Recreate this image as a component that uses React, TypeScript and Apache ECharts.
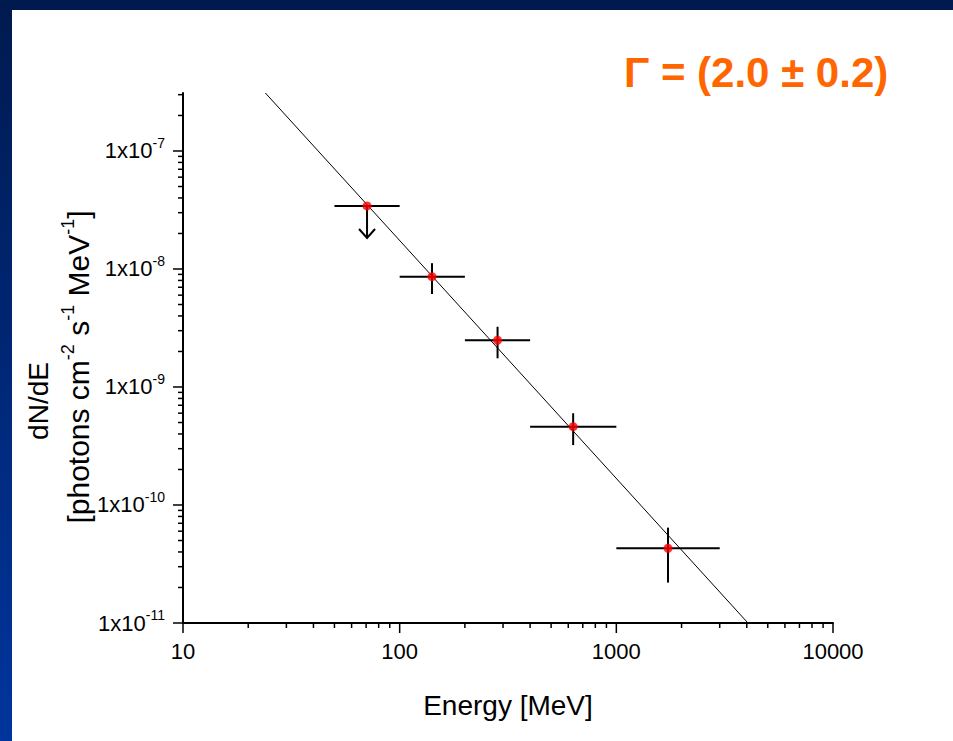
import React, { useEffect, useRef } from 'react';
import * as echarts from 'echarts';

const FONT = '"Liberation Sans", Arial, Helvetica, sans-serif';

// Spectral points (MeV, photons cm^-2 s^-1 MeV^-1)
const energyCenter = [70.7, 141, 283, 632, 1732];
const energyLow = [50, 100, 200, 400, 1000];
const energyHigh = [100, 200, 400, 1000, 3000];
const flux = [3.42e-8, 8.61e-9, 2.49e-9, 4.61e-10, 4.3e-11];
const fluxLow = [3.42e-8, 6.14e-9, 1.75e-9, 3.22e-10, 2.2e-11];
const fluxHigh = [3.42e-8, 1.12e-8, 3.24e-9, 5.99e-10, 6.43e-11];

// Upper limit (first bin): arrow from the point down to this flux
const upperLimitEnergy = [70.7];
const upperLimitFlux = [3.42e-8];
const upperLimitArrowEnd = [1.83e-8];

// Power-law fit line endpoints
const fitEnergy = [24, 4050];
const fitFlux = [3.1e-7, 1e-11];

// Axis ticks
const xMajorTicks = [10, 100, 1000, 10000];
const xMinorTicks = [
  20, 30, 40, 50, 60, 70, 80, 90,
  200, 300, 400, 500, 600, 700, 800, 900,
  2000, 3000, 4000, 5000, 6000, 7000, 8000, 9000,
];
const yMajorTicks = [1e-11, 1e-10, 1e-9, 1e-8, 1e-7];
const yMinorTicks = [
  2e-11, 3e-11, 4e-11, 5e-11, 6e-11, 7e-11, 8e-11, 9e-11,
  2e-10, 3e-10, 4e-10, 5e-10, 6e-10, 7e-10, 8e-10, 9e-10,
  2e-9, 3e-9, 4e-9, 5e-9, 6e-9, 7e-9, 8e-9, 9e-9,
  2e-8, 3e-8, 4e-8, 5e-8, 6e-8, 7e-8, 8e-8, 9e-8,
  2e-7, 3e-7,
];
const xMin = 10;
const xMax = 10000;
const yMin = 1e-11;
const yMax = 3.1e-7;

const titleText = 'Γ = (2.0 ± 0.2)';
const xTitle = 'Energy [MeV]';

const MAJOR_LEN = 10;
const MINOR_LEN = 5;

function xTickSeries(values: number[], len: number) {
  return {
    type: 'custom', xAxisIndex: 0, yAxisIndex: 0, silent: true, clip: false, z: 4,
    data: values.map((v) => [v, yMin]), encode: { x: 0, y: 1 },
    renderItem: (_p: any, api: any) => {
      const p = api.coord([api.value(0), api.value(1)]);
      return {
        type: 'line',
        shape: { x1: p[0], y1: p[1], x2: p[0], y2: p[1] + len },
        style: { stroke: '#000', lineWidth: 1.5 },
      };
    },
  };
}

function yTickSeries(values: number[], len: number) {
  return {
    type: 'custom', xAxisIndex: 0, yAxisIndex: 0, silent: true, clip: false, z: 4,
    data: values.map((v) => [xMin, v]), encode: { x: 0, y: 1 },
    renderItem: (_p: any, api: any) => {
      const p = api.coord([api.value(0), api.value(1)]);
      return {
        type: 'line',
        shape: { x1: p[0], y1: p[1], x2: p[0] - len, y2: p[1] },
        style: { stroke: '#000', lineWidth: 1.5 },
      };
    },
  };
}

export default function App() {
  const ref = useRef<HTMLDivElement>(null);

  useEffect(() => {
    if (!ref.current) return;
    const chart = echarts.init(ref.current, undefined, { renderer: 'svg' });

    const axisLineStyle = { color: '#000', width: 2 };

    const errorData = energyCenter.map((e, i) => [
      e, flux[i], energyLow[i], energyHigh[i], fluxLow[i], fluxHigh[i],
    ]);
    const arrowData = upperLimitEnergy.map((e, i) => [e, upperLimitFlux[i], upperLimitArrowEnd[i]]);

    const option: any = {
      animation: false,
      backgroundColor: '#ffffff',
      textStyle: { fontFamily: FONT },
      grid: { left: 183, right: 120, top: 93, bottom: 118, containLabel: false },
      xAxis: {
        type: 'log', logBase: 10, min: xMin, max: xMax, position: 'bottom',
        axisLine: { show: true, onZero: false, lineStyle: axisLineStyle },
        axisTick: { show: false },
        axisLabel: {
          show: true, customValues: xMajorTicks, fontSize: 22, color: '#000', margin: 17,
          fontFamily: FONT,
          formatter: (v: number) => String(Math.round(v)),
        },
        splitLine: { show: false },
        name: xTitle, nameLocation: 'middle', nameGap: 68,
        nameTextStyle: { fontSize: 28, color: '#000', fontFamily: FONT },
      },
      yAxis: {
        type: 'log', logBase: 10, min: yMin, max: yMax, position: 'left',
        axisLine: { show: true, onZero: false, lineStyle: axisLineStyle },
        axisTick: { show: false },
        axisLabel: {
          show: true, customValues: yMajorTicks, margin: 18, color: '#000',
          formatter: (v: number) => `{b|1x10}{s|${Math.round(Math.log10(v))}}`,
          rich: {
            b: { fontSize: 22, lineHeight: 30, color: '#000', fontFamily: FONT },
            s: { fontSize: 14, lineHeight: 14, verticalAlign: 'top', color: '#000', fontFamily: FONT },
          },
        },
        splitLine: { show: false },
      },
      graphic: [
        {
          type: 'rect', silent: true, z: 0,
          shape: { x: 0, y: 0, width: 12, height: 741 },
          style: {
            fill: new echarts.graphic.LinearGradient(0, 0, 0, 1, [
              { offset: 0, color: '#001a4f' },
              { offset: 1, color: '#00359e' },
            ]),
          },
        },
        {
          type: 'rect', silent: true, z: 0,
          shape: { x: 0, y: 0, width: 953, height: 10 },
          style: { fill: '#001a4f' },
        },
        {
          type: 'text', silent: true, x: 624, y: 72,
          style: {
            text: titleText, fill: '#ff6600', fontSize: 42, fontWeight: 'bold',
            fontFamily: FONT, align: 'left', verticalAlign: 'middle',
          },
        },
        {
          type: 'text', silent: true, x: 38, y: 401, rotation: Math.PI / 2,
          style: {
            text: 'dN/dE', fill: '#000', fontSize: 28, fontFamily: FONT,
            align: 'center', verticalAlign: 'middle',
          },
        },
        {
          type: 'text', silent: true, x: 78, y: 367, rotation: Math.PI / 2,
          style: {
            text: '{t|[photons cm}{s|-2}{t| s}{s|-1}{t| MeV}{s|-1}{t|]}',
            fill: '#000', fontFamily: FONT, align: 'center', verticalAlign: 'middle',
            rich: {
              t: { fontSize: 30, lineHeight: 38, fill: '#000', fontFamily: FONT },
              s: { fontSize: 18, lineHeight: 18, verticalAlign: 'top', fill: '#000', fontFamily: FONT },
            },
          },
        },
      ],
      series: [
        xTickSeries(xMajorTicks, MAJOR_LEN),
        xTickSeries(xMinorTicks, MINOR_LEN),
        yTickSeries(yMajorTicks, MAJOR_LEN),
        yTickSeries(yMinorTicks, MINOR_LEN),
        {
          type: 'line', name: 'fit', xAxisIndex: 0, yAxisIndex: 0,
          data: fitEnergy.map((e, i) => [e, fitFlux[i]]),
          showSymbol: false, symbol: 'none',
          lineStyle: { color: '#000', width: 1 },
          z: 2, silent: true,
        },
        {
          type: 'custom', name: 'errors', xAxisIndex: 0, yAxisIndex: 0,
          data: errorData, encode: { x: 0, y: 1 }, z: 3, silent: true,
          renderItem: (_params: any, api: any) => {
            const x = api.value(0), y = api.value(1);
            const pL = api.coord([api.value(2), y]);
            const pH = api.coord([api.value(3), y]);
            const pB = api.coord([x, api.value(4)]);
            const pT = api.coord([x, api.value(5)]);
            const style = { stroke: '#000', lineWidth: 2 };
            return {
              type: 'group',
              children: [
                { type: 'line', shape: { x1: pL[0], y1: pL[1], x2: pH[0], y2: pH[1] }, style },
                { type: 'line', shape: { x1: pB[0], y1: pB[1], x2: pT[0], y2: pT[1] }, style },
              ],
            };
          },
        },
        {
          type: 'custom', name: 'upper limit', xAxisIndex: 0, yAxisIndex: 0,
          data: arrowData, encode: { x: 0, y: 1 }, z: 3, silent: true,
          renderItem: (_params: any, api: any) => {
            const p0 = api.coord([api.value(0), api.value(1)]);
            const p1 = api.coord([api.value(0), api.value(2)]);
            const style = { stroke: '#000', lineWidth: 2, fill: 'none' };
            return {
              type: 'group',
              children: [
                { type: 'line', shape: { x1: p0[0], y1: p0[1], x2: p1[0], y2: p1[1] }, style },
                {
                  type: 'polyline',
                  shape: { points: [[p1[0] - 8, p1[1] - 9], [p1[0], p1[1]], [p1[0] + 8, p1[1] - 9]] },
                  style,
                },
              ],
            };
          },
        },
        {
          type: 'scatter', name: 'points', xAxisIndex: 0, yAxisIndex: 0,
          data: energyCenter.map((e, i) => [e, flux[i]]),
          symbol: 'circle', symbolSize: 9,
          itemStyle: { color: '#ff0000' },
          z: 5, silent: true,
        },
      ],
    };

    chart.setOption(option);
    return () => chart.dispose();
  }, []);

  return (
    <div
      ref={ref}
      style={{ position: 'fixed', left: 0, top: 0, width: 953, height: 741 }}
    />
  );
}
